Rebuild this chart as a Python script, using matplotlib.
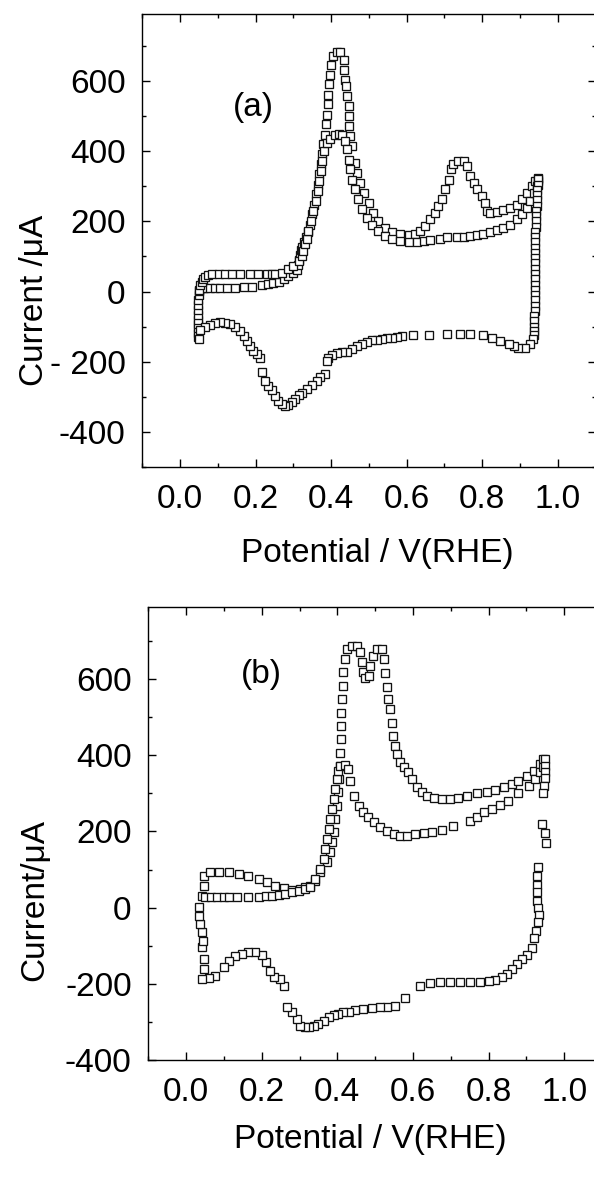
import matplotlib
matplotlib.use("Agg")
import matplotlib.pyplot as plt
from matplotlib.ticker import MultipleLocator

plt.rcParams['font.family'] = ['Liberation Sans', 'DejaVu Sans']

# ---------------- panel (a) data ----------------
a_cat_x = [0.948, 0.947, 0.946, 0.945, 0.944, 0.944, 0.943, 0.943, 0.942, 0.942, 0.941, 0.941, 0.941, 0.940, 0.940,
           0.940, 0.940, 0.940, 0.940, 0.940, 0.939, 0.939, 0.939, 0.939, 0.939, 0.939, 0.938, 0.938, 0.938, 0.937, 0.936,
           0.934, 0.927, 0.914, 0.896, 0.883, 0.870, 0.848, 0.825, 0.803, 0.768, 0.742, 0.706, 0.658, 0.618, 0.587,
           0.574, 0.561, 0.547, 0.534, 0.521, 0.508, 0.494, 0.481, 0.468, 0.455, 0.441, 0.428, 0.415, 0.402, 0.393, 0.389,
           0.384, 0.371, 0.362, 0.349, 0.336, 0.322, 0.314, 0.305, 0.296, 0.287, 0.278, 0.269, 0.260, 0.252, 0.243,
           0.234, 0.225, 0.218,
           0.212, 0.203, 0.194, 0.185, 0.177, 0.168, 0.159, 0.146, 0.132, 0.119, 0.106, 0.093, 0.079, 0.066, 0.053, 0.049]
a_cat_y = [320, 305, 290, 275, 260, 245, 230, 215, 200, 185, 170, 155, 140, 125, 110, 95, 80, 65, 50, 35, 20, 5,
           -10, -25, -40, -55, -70, -85, -100, -112, -124,
           -136, -150, -160, -162, -156, -150, -140, -131, -124, -121, -121, -121, -124, -124, -128, -130, -131, -133,
           -136, -138, -139, -143, -150, -156, -164, -172, -173, -176, -181, -188, -197,
           -235, -244, -254, -266, -278, -289, -296, -306, -315, -323, -325, -320, -311, -297, -282, -268, -254, -230,
           -188, -178, -169, -156, -140, -126, -112, -102, -93, -90, -88, -90, -96, -102, -109, -136]

a_an1_x = [0.048, 0.048, 0.048, 0.048, 0.048, 0.048, 0.048, 0.048, 0.048, 0.049, 0.050, 0.055, 0.062,
           0.066, 0.079, 0.093, 0.106, 0.124, 0.146, 0.168, 0.190, 0.216, 0.234, 0.247, 0.261, 0.274, 0.287, 0.300,
           0.309, 0.313, 0.315, 0.317, 0.319, 0.323, 0.327, 0.333, 0.338, 0.344, 0.350, 0.355, 0.360, 0.365, 0.369,
           0.372, 0.376, 0.379, 0.383, 0.386, 0.389, 0.391, 0.393, 0.395, 0.397, 0.400, 0.406, 0.415, 0.424,
           0.433, 0.435, 0.437, 0.439, 0.441, 0.446, 0.446, 0.448, 0.450, 0.455, 0.464, 0.468, 0.477, 0.486,
           0.499, 0.512, 0.525, 0.543, 0.561, 0.583, 0.605, 0.623, 0.636, 0.649, 0.662, 0.675, 0.684, 0.693, 0.702,
           0.711, 0.717, 0.724, 0.737, 0.751, 0.760, 0.768, 0.777, 0.786, 0.799, 0.808, 0.812, 0.821, 0.839, 0.856,
           0.874, 0.892, 0.905, 0.918, 0.932, 0.940, 0.949]
a_an1_y = [-130, -118, -105, -92, -80, -66, -52, -38, -24, -10, 2, 9, 11,
           11, 11, 11, 11, 11, 11, 12, 14, 18, 21, 24, 27, 35, 44, 54,
           60, 75, 90, 105, 118, 128, 140, 155, 170, 191, 220, 248, 277, 305, 334,
           362, 391, 419, 447, 476, 504, 533, 561, 590, 618, 646, 670, 682, 682,
           661, 632, 604, 585, 556, 528, 500, 471, 443, 414, 367, 338, 310, 282,
           253, 225, 201, 182, 170, 163, 160, 163, 173, 187, 206, 225, 244, 263, 291,
           319, 348, 362, 372, 372, 357, 329, 310, 291, 272, 253, 229, 225, 226, 232,
           239, 248, 263, 282, 301, 315, 324]

a_an2_x = [0.050, 0.053, 0.057, 0.062, 0.066, 0.075, 0.084, 0.102, 0.119, 0.137, 0.159, 0.185, 0.207, 0.230,
           0.243, 0.252, 0.269, 0.287, 0.300, 0.314, 0.322, 0.326, 0.331, 0.336, 0.340, 0.347, 0.353, 0.359,
           0.365, 0.369, 0.374, 0.377, 0.382, 0.389, 0.397, 0.409, 0.421, 0.430, 0.437, 0.442, 0.446, 0.450,
           0.455, 0.464, 0.472, 0.481, 0.495, 0.508, 0.525, 0.543, 0.561, 0.583, 0.605, 0.627, 0.645, 0.662,
           0.689, 0.706, 0.733, 0.751, 0.768, 0.786, 0.803, 0.821, 0.839, 0.856, 0.874, 0.892, 0.905, 0.918,
           0.927, 0.936, 0.945, 0.949]
a_an2_y = [5, 18, 28, 36, 42, 46, 49, 49, 49, 49, 49, 49, 49, 49,
           49, 49, 54, 63, 73, 87, 100, 115, 135, 150, 173, 201, 229, 258,
           286, 315, 343, 372, 400, 424, 436, 446, 449, 446, 428, 405, 376, 348,
           319, 291, 263, 234, 210, 191, 173, 158, 151, 144, 141, 141, 144, 147,
           151, 154, 156, 156, 158, 160, 165, 170, 175, 182, 191, 206, 220, 239,
           258, 282, 300, 315]

# ---------------- panel (b) data ----------------
b_cat_x = [0.950, 0.950, 0.948, 0.950, 0.947, 0.943, 0.940, 0.948, 0.952, 0.932, 0.929, 0.927, 0.927, 0.927,
           0.930, 0.934, 0.932, 0.925, 0.921, 0.914, 0.901, 0.888, 0.875, 0.861, 0.848, 0.835, 0.817, 0.800,
           0.778, 0.751, 0.725, 0.698, 0.672, 0.645, 0.619, 0.578, 0.553, 0.531, 0.513, 0.491, 0.469, 0.447,
           0.430, 0.416, 0.403, 0.390, 0.377, 0.364, 0.350, 0.337, 0.324, 0.315, 0.302, 0.293, 0.280, 0.267,
           0.258, 0.249, 0.232, 0.223, 0.210, 0.200, 0.183, 0.165, 0.148, 0.130, 0.113, 0.100, 0.077, 0.060, 0.042]
b_cat_y = [390, 373, 355, 340, 320, 300, 219, 197, 170, 106, 84, 59, 40, 18,
           -2, -20, -39, -61, -81, -107, -124, -135, -148, -161, -174, -183, -189, -193,
           -194, -194, -194, -194, -196, -199, -205, -236, -259, -262, -262, -264, -266, -269,
           -273, -275, -279, -282, -288, -297, -306, -310, -314, -314, -310, -292, -275, -262,
           -205, -187, -183, -166, -144, -124, -117, -117, -122, -128, -139, -157, -179, -186, -187]

b_an1_x = [0.047, 0.047, 0.042, 0.044, 0.042, 0.038, 0.035, 0.035, 0.042, 0.047, 0.047,
           0.064, 0.086, 0.113, 0.139, 0.165, 0.192, 0.214, 0.236, 0.258, 0.280, 0.302, 0.315, 0.328, 0.342,
           0.355, 0.372, 0.381, 0.386, 0.390, 0.394, 0.399, 0.403, 0.405, 0.406, 0.408, 0.409, 0.409, 0.410,
           0.412, 0.414, 0.416, 0.419, 0.425, 0.438, 0.451, 0.460, 0.465, 0.469, 0.474, 0.483, 0.487, 0.494,
           0.505, 0.518, 0.524, 0.526, 0.531, 0.535, 0.540, 0.544, 0.548, 0.553, 0.557, 0.566, 0.575, 0.588,
           0.597, 0.610, 0.624, 0.637, 0.655, 0.676, 0.698, 0.720, 0.742, 0.769, 0.795, 0.817, 0.840, 0.862,
           0.879, 0.901, 0.919, 0.937, 0.945]
b_an1_y = [-161, -135, -104, -87, -65, -43, -21, 1, 31, 58, 84,
           93, 94, 93, 88, 82, 75, 66, 58, 51, 47, 49, 53, 58, 71,
           93, 119, 145, 171, 198, 233, 268, 303, 338, 373, 407, 442, 478, 512,
           548, 582, 618, 653, 679, 686, 686, 670, 644, 618, 602, 609, 635, 661,
           680, 679, 652, 617, 578, 548, 521, 486, 451, 425, 403, 381, 368, 355,
           338, 316, 303, 292, 287, 285, 285, 289, 294, 301, 304, 310, 316, 324,
           333, 346, 359, 377, 390]

b_an2_x = [0.051, 0.066, 0.082, 0.100, 0.113, 0.135, 0.165, 0.192, 0.210, 0.227, 0.245, 0.262, 0.281, 0.298,
           0.315, 0.328, 0.342, 0.355, 0.364, 0.368, 0.372, 0.377, 0.381, 0.386, 0.390, 0.394, 0.399, 0.402,
           0.408, 0.419, 0.428, 0.434, 0.443, 0.456, 0.469, 0.482, 0.496, 0.513, 0.531, 0.549, 0.566, 0.584,
           0.606, 0.628, 0.650, 0.676, 0.707, 0.751, 0.769, 0.787, 0.809, 0.831, 0.852, 0.879, 0.906, 0.924,
           0.937, 0.945]
b_an2_y = [27, 27, 27, 27, 27, 27, 28, 29, 30, 31, 33, 35, 40, 44,
           50, 55, 75, 101, 128, 154, 180, 206, 233, 259, 285, 311, 338, 359,
           373, 374, 364, 333, 294, 268, 250, 237, 224, 211, 202, 193, 189, 189,
           193, 196, 199, 205, 213, 228, 237, 252, 259, 269, 281, 301, 320, 338,
           355, 368]

# ---------------- axis texts ----------------
x_ticks = [0.0, 0.2, 0.4, 0.6, 0.8, 1.0]
x_ticklabels = ["0.0", "0.2", "0.4", "0.6", "0.8", "1.0"]
y_ticks = [-400, -200, 0, 200, 400, 600]
a_yticklabels = ["-400", "- 200", "0", "200", "400", "600"]
b_yticklabels = ["-400", "-200", "0", "200", "400", "600"]

W, H = 594, 1178
fig = plt.figure(figsize=(W / 100, H / 100), dpi=100)

ax_a = fig.add_axes([142.3 / W, 1 - 467 / H, 453.2 / W, 452.7 / H])
ax_b = fig.add_axes([148.3 / W, 1 - 1060 / H, 453.7 / W, 453.3 / H])

mk = dict(ls='none', marker='s', ms=6.0, mfc='white', mec='#111111', mew=0.95)

ax_a.plot(a_an1_x, a_an1_y, **mk)
ax_a.plot(a_an2_x, a_an2_y, **mk)
ax_a.plot(a_cat_x, a_cat_y, **mk)

ax_b.plot(b_an1_x, b_an1_y, **mk)
ax_b.plot(b_an2_x, b_an2_y, **mk)
ax_b.plot(b_cat_x, b_cat_y, **mk)

FS = 24
for ax, ylim, yl, xlab_pos, ylab_pos, ylab in [
        (ax_a, (-500, 790), a_yticklabels, (0.518, -0.192), (-0.237, 0.369), "Current /\u03bcA"),
        (ax_b, (-400, 790), b_yticklabels, (0.489, -0.176), (-0.25, 0.353), "Current/\u03bcA")]:
    ax.set_xlim(-0.1, 1.1)
    ax.set_ylim(*ylim)
    ax.set_xticks(x_ticks)
    ax.set_xticklabels(x_ticklabels)
    ax.set_yticks(y_ticks)
    ax.set_yticklabels(yl)
    ax.xaxis.set_minor_locator(MultipleLocator(0.1))
    ax.yaxis.set_minor_locator(MultipleLocator(100))
    ax.tick_params(which='both', direction='in', top=True, right=True, width=1.0, labelsize=FS, pad=12)
    ax.tick_params(which='major', length=5.8)
    ax.tick_params(which='minor', length=3.0)
    for s in ax.spines.values():
        s.set_linewidth(1.0)
    ax.set_xlabel("Potential / V(RHE)", fontsize=FS)
    ax.xaxis.set_label_coords(*xlab_pos)
    ax.xaxis.label.set_va('center')
    ax.set_ylabel(ylab, fontsize=FS)
    ax.yaxis.set_label_coords(*ylab_pos)
    ax.yaxis.label.set_va('center')

ax_a.text(0.194, 523, "(a)", fontsize=FS, ha='center', va='center')
ax_b.text(0.199, 613, "(b)", fontsize=FS, ha='center', va='center')

fig.savefig("out.png", dpi=100)
